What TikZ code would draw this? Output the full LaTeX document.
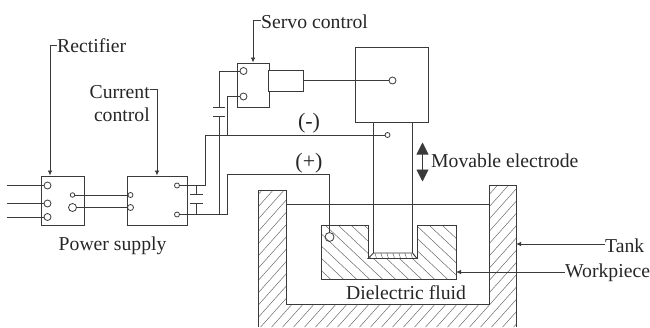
\documentclass[tikz,border=0pt]{standalone}
\usepackage{fontspec}
\setmainfont{Liberation Serif}
\usetikzlibrary{arrows.meta}
\definecolor{ink}{HTML}{3A3A3A}
\tikzset{
  wire/.style={draw=ink,line width=0.95pt},
  boxy/.style={draw=ink,line width=0.95pt,fill=white,inner sep=0pt,minimum width=#1},
  term/.style={circle,draw=ink,line width=0.8pt,inner sep=0pt,minimum size=#1},
  lab/.style={inner sep=0pt,font=\fontsize{19.7}{22}\selectfont,text=black!85},
  polarity/.style={inner sep=0pt,font=\fontsize{22}{24}\selectfont,text=black!85},
  leader/.style={draw=ink,line width=0.8pt},
  tip/.style={-{Latex[length=5pt,width=4.5pt]}},
  bigtip/.style={{Triangle[length=12pt,width=12pt]}-{Triangle[length=12pt,width=12pt]}},
  hatch/.style={draw=ink!75,line width=0.5pt},
}
\begin{document}
\begin{tikzpicture}[x=1pt,y=-1pt]
\useasboundingbox (0,0) rectangle (650,327);

% tank hatching
\begin{scope}
\clip (258.5,190) -- (286,190) -- (286,304.5) -- (489,304.5) -- (489,185.5) -- (516,185.5) -- (516,327) -- (258.5,327) -- cycle;
\foreach \k in {-112,-101,...,400} \draw[hatch] (240+\k,340) -- (240+\k+170,340-190);
\end{scope}
\draw[wire] (258.5,327) -- (258.5,190) -- (286,190) -- (286,304.5) -- (489,304.5) -- (489,185.5) -- (516,185.5) -- (516,327);
\draw[wire] (286,204) -- (489,204);

% workpiece hatching
\begin{scope}
\clip (321.5,225.5) -- (368,225.5) -- (368,258.5) -- (417,258.5) -- (417,225.5) -- (456,225.5) -- (456,279) -- (321.5,279) -- cycle;
\foreach \k in {-39,-26,...,230} \draw[hatch] (270+\k,210) -- (270+\k+85,290);
\end{scope}
\draw[wire] (321.5,225.5) -- (368,225.5) -- (368,258.5) -- (417,258.5) -- (417,225.5) -- (456,225.5) -- (456,279) -- (321.5,279) -- cycle;

% electrode tip
\begin{scope}
\clip (373.5,253) -- (412.5,253) -- (417,258.5) -- (368,258.5) -- cycle;
\foreach \k in {0,6,...,60} \draw[hatch] (362+\k,250) -- (365+\k,260);
\end{scope}
\draw[wire] (373.5,253) -- (412.5,253) -- (417,258.5) -- (368,258.5) -- cycle;

% boxes
\node[boxy=43pt,minimum height=49pt] (rect) at (62.5,200.5) {};
\node[boxy=60pt,minimum height=49pt] (curr) at (157,200.5) {};
\node[boxy=32pt,minimum height=44pt] (servo) at (253,85) {};
\node[boxy=34.5pt,minimum height=21pt] (motor) at (286.2,80.5) {};
\node[boxy=72.5pt,minimum height=75.5pt] (head) at (392,85.2) {};

% terminals
\node[term=7pt] (ra) at (47.5,185.5) {};
\node[term=7pt] (rb) at (47.5,203.5) {};
\node[term=7pt] (rc) at (47.5,217) {};
\node[term=4.5pt] (rd) at (72.5,195) {};
\node[term=8pt] (re) at (72.5,207.5) {};
\node[term=5pt] (ca) at (130.5,195) {};
\node[term=6pt] (cb) at (130.5,207.5) {};
\node[term=5pt] (cc) at (177,185.5) {};
\node[term=5pt] (cd) at (177,214.5) {};
\node[term=7pt] (sa) at (243.5,71) {};
\node[term=7pt] (sb) at (243.5,96.5) {};
\node[term=7pt] (ha) at (392.5,80.5) {};
\node[term=5pt] (ea) at (387.5,135) {};
\node[term=9pt] (wa) at (329.5,237) {};

% free ends and junctions
\coordinate (ina) at (7,185.5);
\coordinate (inb) at (7,203.5);
\coordinate (inc) at (7,217);
\coordinate (capa) at (196.5,194);
\coordinate (capb) at (196.5,203);
\coordinate (capc) at (219,107);
\coordinate (capd) at (219,116);
\coordinate (neg) at (205,135);
\coordinate (sj) at (227,135);

% wiring
\draw[wire] (ina) -- (ra);
\draw[wire] (inb) -- (rb);
\draw[wire] (inc) -- (rc);
\draw[wire] (rd) -- (ca);
\draw[wire] (re) -- (cb);
\draw[wire] (cc) -- (205,185.5) -- (neg) -- (ea);
\draw[wire] (cd) -- (219,214.5) -- (capd);
\draw[wire] (capc) -- (219,71) -- (sa);
\draw[wire] (sj) -- (227,96.5) -- (sb);
\draw[wire] (cd) -- (227,214.5) -- (227,174.5) -- (329.5,174.5) -- (wa);
\draw[wire] (motor.east) -- (ha);
% capacitors
\draw[wire] (196.5,185.5) -- (capa);
\draw[wire] (196.5,214.5) -- (capb);
\draw[wire] (190,194) -- (203,194);
\draw[wire] (190,203) -- (203,203);
\draw[wire] (213,107) -- (225,107);
\draw[wire] (213,116) -- (225,116);

% electrode
\draw[wire] (373.5,123) -- (373.5,253);
\draw[wire] (412.5,123) -- (412.5,253);

% leaders
\node[lab,anchor=base west] (lrect) at (57,52) {Rectifier};
\draw[leader,tip] (lrect.west |- 0,45) -- (50,45) -- (rect.north -| 50,0);
\node[lab,anchor=base east] (lcurr) at (150,98.5) {Current};
\node[lab,anchor=base east] (lcont) at (150,121) {control};
\draw[leader,tip] (lcurr.east |- 0,89.5) -- (157,89.5) -- (curr.north);
\node[lab,anchor=base west] (lservo) at (261,28) {Servo control};
\draw[leader,tip] (lservo.west |- 0,20) -- (253,20) -- (servo.north);
\node[lab,anchor=base west] (ltank) at (605,252) {Tank};
\coordinate (tw) at (516,244);
\draw[leader,tip] (ltank.west |- tw) -- (tw);
\node[lab,anchor=base west] (lwork) at (565,277) {Workpiece};
\coordinate (ww) at (456,272);
\draw[leader,tip] (lwork.west |- ww) -- (ww);

% labels
\node[polarity,anchor=base] (lneg) at (309,128) {(-)};
\node[polarity,anchor=base] (lpos) at (309,168) {(+)};
\node[lab,anchor=base west] (lmov) at (431,167) {Movable electrode};
\node[lab,anchor=base west] (lpow) at (58.5,250) {Power supply};
\node[lab,anchor=base west] (ldie) at (346,299) {Dielectric fluid};

% movement arrow
\coordinate (mt) at (422.5,142.5);
\coordinate (mb) at (422.5,181.5);
\draw[draw=ink,line width=0.9pt,bigtip,fill=black] (mt) -- (mb);
\end{tikzpicture}
\end{document}
